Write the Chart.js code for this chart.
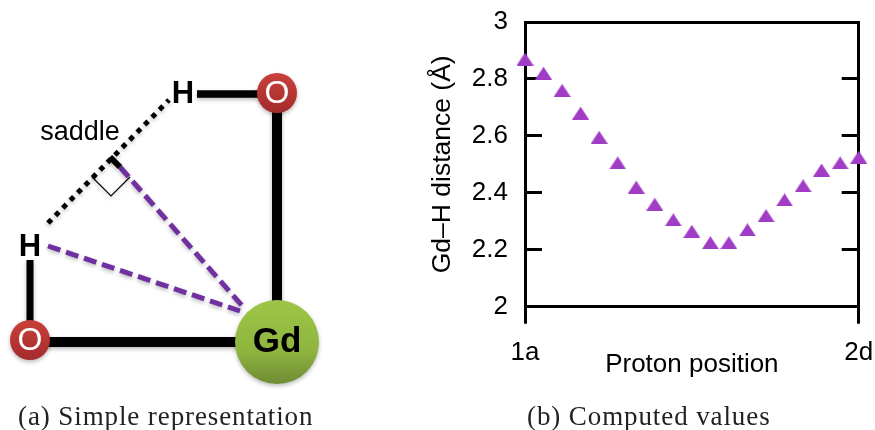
<!DOCTYPE html>
<html>
<head>
<meta charset="utf-8">
<title>Gd-H distance</title>
<script src="https://cdn.jsdelivr.net/npm/chart.js@4"></script>
<style>
    html, body { margin: 0; padding: 0; background: #fff; width: 875px; height: 430px; overflow: hidden; }
    canvas { position: absolute; top: 0; }
    #diagram { left: 0; }
    #distanceChart { left: 400px; }
    .caption { position: absolute; top: 401px; font-family: "Liberation Serif", serif; font-size: 27px; line-height: 30px; letter-spacing: 0.9px; color: #222; white-space: nowrap; }
</style>
</head>
<body>
<canvas id="diagram" width="400" height="430"></canvas>
<canvas id="distanceChart" width="475" height="430"></canvas>
<div class="caption" style="left:18px">(a) Simple representation</div>
<div class="caption" style="left:527px">(b) Computed values</div>

<script>
// Right panel values
const positions = [0, 1, 2, 3, 4, 5, 6, 7, 8, 9, 10, 11, 12, 13, 14, 15, 16, 17, 18];
const distances = [2.87, 2.82, 2.76, 2.68, 2.595, 2.505, 2.42, 2.36, 2.305, 2.265, 2.225, 2.225, 2.27, 2.32, 2.375, 2.425, 2.48, 2.505, 2.525];
const xTickLabels = ["1a", "2d"];
const yTickLabels = ["3", "2.8", "2.6", "2.4", "2.2", "2"];

// Left panel, in diagram units
const atomX = [277, 30, 277];
const atomY = [93, 340, 342];
const labelText = ["H", "H", "O", "O", "Gd", "saddle"];
const labelX = [183, 30, 277, 30, 277, 80];
const labelY = [94, 247, 94, 341, 342, 133];
const bondTopH = [[197, 94], [262, 94]];
const bondRight = [[277, 108], [277, 305]];
const bondBottom = [[45, 342], [240, 342]];
const bondLeftH = [[30, 260], [30, 325]];
const hydrogenPath = [[48, 223], [169, 100]];
const saddleMark = [[110, 157], [120, 167]];
const rightAngle = [[92, 177], [111, 196], [130, 177]];
const saddleDistance = [[120, 167], [245, 309]];
const hydrogenDistance = [[48, 246], [240, 311]];

function toPoints(pairs) {
    return pairs.map(p => ({ x: p[0], y: p[1] }));
}

function lineSet(pairs, color, width, dash, cap) {
    return {
        type: "line",
        data: toPoints(pairs),
        borderColor: color,
        borderWidth: width,
        borderDash: dash || [],
        borderCapStyle: cap || "butt",
        pointRadius: 0,
        tension: 0,
        order: 2
    };
}

// Atom shading runs top to bottom, the diagram scale is 1:1 with the canvas
function atomFill(ctx) {
    const i = ctx.dataIndex;
    if (i === undefined) return "#000";
    const cy = atomY[i];
    const r = i === 2 ? 42 : 20;
    const g = ctx.chart.ctx.createLinearGradient(0, cy - r, 0, cy + r);
    if (i === 2) {
        g.addColorStop(0, "#9dc646");
        g.addColorStop(0.6, "#8fb53f");
        g.addColorStop(1, "#6f8c34");
    } else {
        g.addColorStop(0, "#c9403b");
        g.addColorStop(1, "#a32c2c");
    }
    return g;
}

const labelPlugin = {
    id: "atomLabels",
    beforeDatasetsDraw(chart) {
        chart.ctx.shadowColor = "rgba(0,0,0,0.28)";
        chart.ctx.shadowBlur = 4;
        chart.ctx.shadowOffsetY = 2;
    },
    afterDatasetsDraw(chart) {
        const c = chart.ctx;
        c.shadowColor = "transparent";
        c.shadowBlur = 0;
        c.shadowOffsetY = 0;
        c.save();
        c.textAlign = "center";
        c.textBaseline = "middle";
        labelText.forEach((t, i) => {
            if (t === "O") {
                c.font = '32px "Liberation Sans"';
                c.fillStyle = "#fff";
            } else if (t === "saddle") {
                c.font = '27px "Liberation Sans"';
                c.fillStyle = "#000";
            } else {
                c.font = 'bold ' + (t === "Gd" ? 35 : 31) + 'px "Liberation Sans"';
                c.fillStyle = "#000";
            }
            c.fillText(t, chart.scales.x.getPixelForValue(labelX[i]), chart.scales.y.getPixelForValue(labelY[i]));
        });
        c.restore();
    }
};

new Chart(document.getElementById("diagram"), {
    type: "scatter",
    data: {
        datasets: [
            {
                data: atomX.map((x, i) => ({ x: x, y: atomY[i] })),
                pointRadius: [20, 20, 42],
                pointHoverRadius: [20, 20, 42],
                pointBorderWidth: 0,
                backgroundColor: atomFill,
                order: 1
            },
            lineSet(bondTopH, "#000", 7.5),
            lineSet(bondRight, "#000", 10),
            lineSet(bondBottom, "#000", 10),
            lineSet(bondLeftH, "#000", 7),
            lineSet(hydrogenPath, "#000", 5, [5, 5.6]),
            lineSet(saddleMark, "#000", 6),
            lineSet(rightAngle, "#000", 1.2),
            lineSet(saddleDistance, "#7030a0", 5, [13, 6]),
            lineSet(hydrogenDistance, "#7030a0", 5, [13, 6])
        ]
    },
    options: {
        responsive: false,
        animation: false,
        devicePixelRatio: 1,
        layout: { padding: 0, autoPadding: false },
        plugins: { legend: { display: false }, tooltip: { enabled: false } },
        scales: {
            x: { type: "linear", display: false, min: 0, max: 400 },
            y: { type: "linear", display: false, min: 0, max: 430, reverse: true }
        }
    },
    plugins: [labelPlugin]
});

// Gnuplot's triangle is wider than an equilateral one
const triangle = document.createElement("canvas");
triangle.width = 17;
triangle.height = 13;
const tctx = triangle.getContext("2d");
tctx.fillStyle = "#a13cc6";
tctx.beginPath();
tctx.moveTo(8.5, 0);
tctx.lineTo(17, 13);
tctx.lineTo(0, 13);
tctx.closePath();
tctx.fill();

const axisFont = { family: '"Liberation Sans"', size: 26 };
const axisLine = 3;

new Chart(document.getElementById("distanceChart"), {
    type: "scatter",
    data: {
        datasets: [{
            data: positions.map((p, i) => ({ x: p, y: distances[i] })),
            pointStyle: triangle,
            clip: false
        }]
    },
    options: {
        responsive: false,
        animation: false,
        devicePixelRatio: 1,
        layout: { padding: { top: 22, right: 16.3, left: 0, bottom: 0 }, autoPadding: false },
        plugins: { legend: { display: false }, tooltip: { enabled: false } },
        scales: {
            x: {
                type: "linear",
                min: 0,
                max: 18,
                border: { color: "#000", width: axisLine },
                grid: { drawOnChartArea: false, tickLength: 17, tickColor: "#000", tickWidth: axisLine },
                ticks: {
                    stepSize: 18,
                    color: "#000",
                    font: axisFont,
                    padding: 14,
                    maxRotation: 0,
                    callback: v => xTickLabels[v / 18]
                },
                title: {
                    display: true,
                    text: "Proton position",
                    color: "#000",
                    font: axisFont,
                    padding: { top: 0, bottom: 50 }
                },
                afterFit(scale) {
                    scale.height = 123.3;
                    scale.paddingLeft = 0;
                    scale.paddingRight = 0;
                }
            },
            top: {
                type: "linear",
                position: "top",
                axis: "x",
                min: 0,
                max: 18,
                border: { color: "#000", width: axisLine },
                grid: { drawOnChartArea: false, drawTicks: false },
                ticks: { display: false },
                afterFit(scale) { scale.height = 0; scale.paddingLeft = 0; scale.paddingRight = 0; }
            },
            y: {
                type: "linear",
                min: 2,
                max: 3,
                border: { color: "#000", width: axisLine },
                grid: { drawOnChartArea: false, tickLength: -17, tickColor: "#000", tickWidth: axisLine },
                ticks: {
                    stepSize: 0.2,
                    color: "#000",
                    font: axisFont,
                    padding: 34,
                    callback: (v, i, all) => yTickLabels[all.length - 1 - i]
                },
                title: {
                    display: true,
                    text: "Gd\u2013H distance (\u00c5)",
                    color: "#000",
                    font: { family: '"Liberation Sans"', size: 26.5 },
                    padding: { top: 27, bottom: 0 }
                },
                afterFit(scale) { scale.width = 125; scale.paddingTop = 0; scale.paddingBottom = 0; }
            },
            right: {
                type: "linear",
                position: "right",
                axis: "y",
                min: 2,
                max: 3,
                border: { color: "#000", width: axisLine },
                grid: { drawOnChartArea: false, tickLength: -17, tickColor: "#000", tickWidth: axisLine },
                ticks: { stepSize: 0.2, display: false },
                afterFit(scale) { scale.width = 0; scale.paddingTop = 0; scale.paddingBottom = 0; }
            }
        }
    }
});
</script>
</body>
</html>
